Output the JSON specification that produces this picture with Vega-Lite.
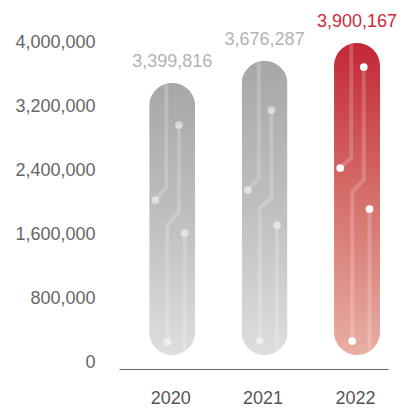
{
  "$schema": "https://vega.github.io/schema/vega-lite/v6.json",
  "width": 269,
  "height": 320,
  "autosize": {"type": "none"},
  "padding": {"left": 119, "top": 35, "right": 18, "bottom": 53},
  "background": "white",
  "config": {
    "view": {"stroke": null},
    "font": "Liberation Sans",
    "axisX": {"domain": true, "domainColor": "#666666", "domainWidth": 1, "ticks": false, "tickSize": 0, "grid": false, "labelPadding": 20, "labelOffset": -2, "labelFontSize": 18, "labelColor": "#555555", "offset": 14, "labelFont": "Liberation Sans"},
    "axisY": {"domain": false, "ticks": false, "tickSize": 0, "grid": false, "labelPadding": 24, "labelOffset": 7, "labelFontSize": 18, "labelColor": "#666666", "labelFont": "Liberation Sans"}
  },
  "datasets": {
    "bars": [
      {"year": 2020, "value": 3399816},
      {"year": 2021, "value": 3676287},
      {"year": 2022, "value": 3900167}
    ],
    "traces": [
      {"year": 2020, "seg": "2020A", "o": 1, "x": 2019.9375, "v": 3385000},
      {"year": 2020, "seg": "2020A", "o": 2, "x": 2019.9375, "v": 2100000},
      {"year": 2020, "seg": "2020A", "o": 3, "x": 2019.818, "v": 1937500},
      {"year": 2020, "seg": "2020B", "o": 1, "x": 2020.073, "v": 2875000},
      {"year": 2020, "seg": "2020B", "o": 2, "x": 2020.073, "v": 1787500},
      {"year": 2020, "seg": "2020B", "o": 3, "x": 2019.948, "v": 1625000},
      {"year": 2020, "seg": "2020B", "o": 4, "x": 2019.948, "v": 162500},
      {"year": 2020, "seg": "2020C", "o": 1, "x": 2020.135, "v": 1525000},
      {"year": 2020, "seg": "2020C", "o": 2, "x": 2020.135, "v": 62500},
      {"year": 2021, "seg": "2021A", "o": 1, "x": 2020.9375, "v": 3660000},
      {"year": 2021, "seg": "2021A", "o": 2, "x": 2020.9375, "v": 2212500},
      {"year": 2021, "seg": "2021A", "o": 3, "x": 2020.818, "v": 2062500},
      {"year": 2021, "seg": "2021B", "o": 1, "x": 2021.073, "v": 3062500},
      {"year": 2021, "seg": "2021B", "o": 2, "x": 2021.073, "v": 1962500},
      {"year": 2021, "seg": "2021B", "o": 3, "x": 2020.948, "v": 1837500},
      {"year": 2021, "seg": "2021B", "o": 4, "x": 2020.948, "v": 175000},
      {"year": 2021, "seg": "2021C", "o": 1, "x": 2021.135, "v": 1625000},
      {"year": 2021, "seg": "2021C", "o": 2, "x": 2021.135, "v": 62500},
      {"year": 2022, "seg": "2022A", "o": 1, "x": 2021.9375, "v": 3885000},
      {"year": 2022, "seg": "2022A", "o": 2, "x": 2021.9375, "v": 2462500},
      {"year": 2022, "seg": "2022A", "o": 3, "x": 2021.818, "v": 2337500},
      {"year": 2022, "seg": "2022B", "o": 1, "x": 2022.073, "v": 3600000},
      {"year": 2022, "seg": "2022B", "o": 2, "x": 2022.073, "v": 2187500},
      {"year": 2022, "seg": "2022B", "o": 3, "x": 2021.948, "v": 2037500},
      {"year": 2022, "seg": "2022B", "o": 4, "x": 2021.948, "v": 175000},
      {"year": 2022, "seg": "2022C", "o": 1, "x": 2022.135, "v": 1825000},
      {"year": 2022, "seg": "2022C", "o": 2, "x": 2022.135, "v": 62500}
    ],
    "nodes": [
      {"year": 2020, "x": 2019.818, "v": 1937500},
      {"year": 2020, "x": 2020.073, "v": 2875000},
      {"year": 2020, "x": 2019.948, "v": 162500},
      {"year": 2020, "x": 2020.135, "v": 1525000},
      {"year": 2021, "x": 2020.818, "v": 2062500},
      {"year": 2021, "x": 2021.073, "v": 3062500},
      {"year": 2021, "x": 2020.948, "v": 175000},
      {"year": 2021, "x": 2021.135, "v": 1625000},
      {"year": 2022, "x": 2021.818, "v": 2337500},
      {"year": 2022, "x": 2022.073, "v": 3600000},
      {"year": 2022, "x": 2021.948, "v": 175000},
      {"year": 2022, "x": 2022.135, "v": 1825000}
    ]
  },
  "layer": [
    {
      "data": {"name": "bars"},
      "transform": [{"filter": "datum.year != 2022"}],
      "mark": {
        "type": "bar", "width": 46, "cornerRadius": 23,
        "fill": {"gradient": "linear", "x1": 0, "y1": 0, "x2": 0, "y2": 1,
          "stops": [{"offset": 0, "color": "#a6a7a9"}, {"offset": 0.5, "color": "#bebfc1"}, {"offset": 1, "color": "#dedede"}]}
      },
      "encoding": {
        "x": {"field": "year", "type": "quantitative", "scale": {"domain": [2019.479, 2022.281], "nice": false, "zero": false}, "axis": {"values": [2020, 2021, 2022], "format": "d", "title": null}},
        "y": {"field": "value", "type": "quantitative", "scale": {"domain": [0, 4000000], "nice": false}, "axis": {"values": [0, 800000, 1600000, 2400000, 3200000, 4000000], "format": ",d", "title": null}}
      }
    },
    {
      "data": {"name": "bars"},
      "transform": [{"filter": "datum.year == 2022"}],
      "mark": {
        "type": "bar", "width": 46, "cornerRadius": 23,
        "fill": {"gradient": "linear", "x1": 0, "y1": 0, "x2": 0, "y2": 1,
          "stops": [{"offset": 0, "color": "#c32737"}, {"offset": 0.5, "color": "#d5706a"}, {"offset": 1, "color": "#e8aea4"}]}
      },
      "encoding": {
        "x": {"field": "year", "type": "quantitative", "scale": {"domain": [2019.479, 2022.281], "nice": false, "zero": false}, "axis": {"values": [2020, 2021, 2022], "format": "d", "title": null}},
        "y": {"field": "value", "type": "quantitative", "scale": {"domain": [0, 4000000], "nice": false}, "axis": {"values": [0, 800000, 1600000, 2400000, 3200000, 4000000], "format": ",d", "title": null}}
      }
    },
    {
      "data": {"name": "traces"},
      "mark": {"type": "line", "stroke": "white", "strokeWidth": 4, "strokeCap": "butt", "strokeJoin": "miter", "opacity": 0.2},
      "encoding": {
        "x": {"field": "x", "type": "quantitative", "scale": {"domain": [2019.479, 2022.281], "nice": false, "zero": false}, "axis": {"values": [2020, 2021, 2022], "format": "d", "title": null}},
        "y": {"field": "v", "type": "quantitative", "scale": {"domain": [0, 4000000], "nice": false}, "axis": {"values": [0, 800000, 1600000, 2400000, 3200000, 4000000], "format": ",d", "title": null}},
        "detail": {"field": "seg"},
        "order": {"field": "o", "type": "quantitative"}
      }
    },
    {
      "data": {"name": "nodes"},
      "mark": {"type": "point", "shape": "circle", "filled": true, "fill": "white", "strokeWidth": 0, "size": 60},
      "encoding": {
        "x": {"field": "x", "type": "quantitative", "scale": {"domain": [2019.479, 2022.281], "nice": false, "zero": false}, "axis": {"values": [2020, 2021, 2022], "format": "d", "title": null}},
        "y": {"field": "v", "type": "quantitative", "scale": {"domain": [0, 4000000], "nice": false}, "axis": {"values": [0, 800000, 1600000, 2400000, 3200000, 4000000], "format": ",d", "title": null}},
        "opacity": {"condition": {"test": "datum.year == 2022", "value": 1}, "value": 0.5}
      }
    },
    {
      "data": {"name": "bars"},
      "mark": {"type": "text", "dy": -21, "baseline": "middle", "align": "center", "fontSize": 18, "font": "Liberation Sans"},
      "encoding": {
        "x": {"field": "year", "type": "quantitative", "scale": {"domain": [2019.479, 2022.281], "nice": false, "zero": false}, "axis": {"values": [2020, 2021, 2022], "format": "d", "title": null}},
        "y": {"field": "value", "type": "quantitative", "scale": {"domain": [0, 4000000], "nice": false}, "axis": {"values": [0, 800000, 1600000, 2400000, 3200000, 4000000], "format": ",d", "title": null}},
        "text": {"field": "value", "type": "quantitative", "format": ",d"},
        "color": {"condition": {"test": "datum.year == 2022", "value": "#d0283b"}, "value": "#b3b3b3"}
      }
    }
  ]
}
